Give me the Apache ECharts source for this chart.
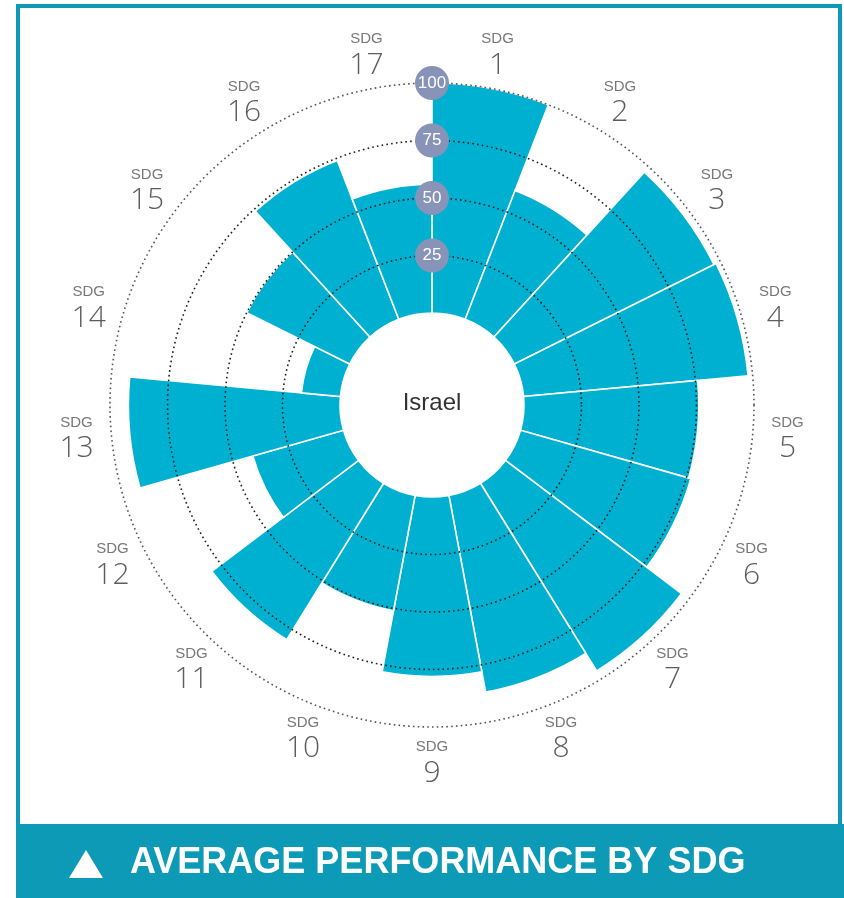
<!DOCTYPE html>
<html>
<head>
<meta charset="utf-8">
<script src="https://cdn.jsdelivr.net/npm/echarts@6/dist/echarts.min.js"></script>
<style>html,body{margin:0;padding:0;background:#fff;}#c{width:844px;height:898px;}</style>
</head>
<body>
<div id="c"></div>
<script>
// ---- data ----
const categories = ['1','2','3','4','5','6','7','8','9','10','11','12','13','14','15','16','17'];
const scores = [100, 60, 97, 98, 76, 77, 96, 87, 78, 51, 80, 41, 92, 17, 50, 74, 56];
const radiusTicks = [0, 25, 50, 75, 100];
const countryName = 'Israel';
const bannerTitle = 'AVERAGE PERFORMANCE BY SDG';

const chart = echarts.init(document.getElementById('c'), null, {renderer: 'canvas'});
const CX = 432, CY = 405;
const teal = '#0c9ab6';

const option = {
  backgroundColor: '#fff',
  animation: false,
  polar: [
    {center: [CX, CY], radius: [92, 322]},
    {center: [CX, CY], radius: [0, 357]}
  ],
  angleAxis: [
    {polarIndex: 0, type: 'category', data: categories, startAngle: 90, clockwise: true,
     boundaryGap: true, axisLine: {show: false}, axisTick: {show: false},
     axisLabel: {show: false}, splitLine: {show: false}},
    {polarIndex: 1, type: 'category', data: categories, startAngle: 90, clockwise: true,
     boundaryGap: true, axisLine: {show: false}, axisTick: {show: false},
     axisLabel: {show: false}, splitLine: {show: false}}
  ],
  radiusAxis: [
    {polarIndex: 0, type: 'value', min: radiusTicks[0], max: radiusTicks[radiusTicks.length - 1], interval: 25,
     z: 10,
     axisLine: {show: false}, axisTick: {show: false},
     splitLine: {show: true, lineStyle: {color: ['rgba(0,0,0,0)', '#1e1e1e', '#1e1e1e', '#1e1e1e', '#555'], width: 1.6, type: [1.6, 3.2]}},
     axisLabel: {
       show: true, showMinLabel: false, margin: 0,
       align: 'center', verticalAlign: 'middle',
       color: '#fff', fontSize: 17, fontFamily: 'Liberation Sans Narrow, Arial Narrow, sans-serif',
       backgroundColor: '#8793b7', borderRadius: 17, width: 34, height: 34, lineHeight: 34,
       formatter: v => (v === 0 ? '' : String(v))
     }},
    {polarIndex: 1, type: 'value', min: 0, max: 1, show: false,
     axisLine: {show: false}, axisTick: {show: false}, axisLabel: {show: false}, splitLine: {show: false}}
  ],
  graphic: [
    {type: 'rect', z: -10, shape: {x: 18, y: 6, width: 822, height: 820},
     style: {fill: '#fff', stroke: teal, lineWidth: 4}},
    {type: 'rect', z: 100, shape: {x: 16, y: 824, width: 828, height: 74}, style: {fill: teal}},
    {type: 'polygon', z: 101, shape: {points: [[86, 850], [103, 878], [69, 878]]}, style: {fill: '#fff'}},
    {type: 'text', z: 101, x: 130, y: 863,
     style: {text: bannerTitle, fill: '#fff', font: 'bold 36px "Liberation Sans Narrow", "Liberation Sans", sans-serif',
             textVerticalAlign: 'middle', textAlign: 'left'}},
    {type: 'text', z: 50, x: CX, y: CY - 2,
     style: {text: countryName, fill: '#333', font: '24px "Liberation Sans Narrow", sans-serif',
             textAlign: 'center', textVerticalAlign: 'middle'}}
  ],
  series: [
    {
      type: 'bar', coordinateSystem: 'polar', polarIndex: 0,
      data: scores, barCategoryGap: '0%', barGap: '0%',
      itemStyle: {color: '#00b0d1', borderColor: '#fff', borderWidth: 1.6},
      silent: true
    },
    {
      type: 'scatter', coordinateSystem: 'polar', polarIndex: 1,
      data: categories.map(c => [1, c]),
      symbolSize: 0, silent: true,
      label: {
        show: true, position: 'inside',
        formatter: p => '{s|SDG}\n{n|' + p.value[1] + '}',
        rich: {
          s: {fontSize: 15, color: '#555', fontFamily: 'Liberation Sans Narrow, sans-serif', lineHeight: 22, align: 'center'},
          n: {fontSize: 30, color: '#333', fontFamily: 'Open Sans, sans-serif', fontWeight: 300, lineHeight: 30, align: 'center'}
        }
      }
    }
  ]
};
chart.setOption(option);
</script>
</body>
</html>
